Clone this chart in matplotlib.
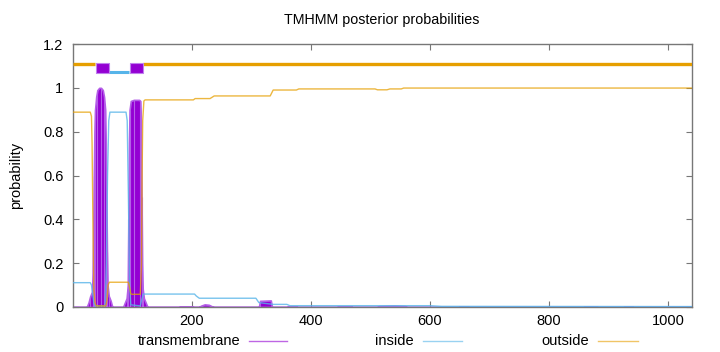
import matplotlib
matplotlib.use('Agg')
import matplotlib.pyplot as plt
from matplotlib.lines import Line2D
from matplotlib.ticker import FuncFormatter

# posterior probabilities (residue, value)
tm_x = [1, 24, 27, 30, 33, 34, 35, 36, 37, 38, 40, 42, 45, 48, 51, 53, 55, 56, 57, 58, 59, 61, 64, 67,
        85, 88, 91, 93, 94, 95, 96, 98, 103, 112, 114, 115, 116, 117, 118, 120, 123, 126,
        178, 182, 200, 204, 212, 216, 222, 229, 235, 238, 313, 315, 333, 335,
        360, 362, 376, 378, 444, 446, 468, 470, 511, 515, 540, 558, 562,
        648, 650, 664, 666, 858, 860, 880, 882, 925, 927, 940, 942, 1040]
tm_y = [0, 0, 0.02, 0.05, 0.07, 0.15, 0.35, 0.6, 0.8, 0.9, 0.96, 0.99, 1.0, 1.0, 0.99, 0.96, 0.9, 0.75, 0.5, 0.25, 0.1, 0.05, 0.03, 0,
        0, 0.02, 0.04, 0.1, 0.4, 0.75, 0.9, 0.94, 0.945, 0.945, 0.94, 0.85, 0.5, 0.2, 0.08, 0.04, 0.02, 0,
        0, 0.003, 0.003, 0, 0, 0.006, 0.012, 0.01, 0.002, 0, 0, 0.028, 0.03, 0,
        0, 0.003, 0.003, 0, 0, 0.003, 0.003, 0, 0, 0.004, 0.006, 0.004, 0,
        0, 0.003, 0.003, 0, 0, 0.003, 0.003, 0, 0, 0.003, 0.003, 0, 0]

inside_x = [1, 30, 32, 34, 36, 38, 55, 57, 59, 61, 63, 90, 92, 94, 96, 98, 114, 116, 119,
            205, 208, 213, 308, 313, 337, 360, 365, 600, 620, 1040]
inside_y = [0.111, 0.111, 0.1, 0.06, 0.02, 0.005, 0.005, 0.2, 0.6, 0.85, 0.889, 0.889, 0.85, 0.5, 0.1, 0.01, 0.005, 0.03, 0.059,
            0.059, 0.05, 0.04, 0.04, 0.02, 0.012, 0.012, 0.006, 0.006, 0.003, 0.002]

outside_x = [1, 30, 32, 33, 34, 35, 36, 38, 40, 56, 58, 60, 62, 94, 96, 98, 100, 114, 116, 117, 118, 120, 122,
             203, 206, 231, 238, 332, 337, 376, 380, 508, 512, 528, 533, 552, 556, 1040]
outside_y = [0.889, 0.889, 0.87, 0.75, 0.5, 0.25, 0.08, 0.02, 0.005, 0.005, 0.03, 0.1, 0.113, 0.113, 0.09, 0.06, 0.058, 0.058, 0.2, 0.6, 0.85, 0.94, 0.945,
             0.945, 0.951, 0.951, 0.963, 0.963, 0.99, 0.99, 0.995, 0.995, 0.991, 0.991, 0.995, 0.995, 0.999, 0.999]

# predicted topology (start, end)
outside_seg = [(1, 38), (119, 1040)]
inside_seg = [(62, 95)]
tm_seg = [(39, 61), (96, 118)]

seq_len = 1040
x_ticks = [200, 400, 600, 800, 1000]
y_ticks = [0, 0.2, 0.4, 0.6, 0.8, 1.0, 1.2]

PURPLE = '#9400d3'
BLUE = '#56b4e9'
ORANGE = '#e69f00'
BORDER = '#777777'

plt.rcParams['font.family'] = ['Liberation Sans', 'DejaVu Sans']

fig = plt.figure(figsize=(7.2, 3.52), dpi=100)
ax = fig.add_axes([73 / 720, 1 - 307 / 352, (692 - 73) / 720, (307 - 44) / 352])

# transmembrane as impulses
ax.fill_between(tm_x, tm_y, 0, color=PURPLE, linewidth=1.2, edgecolor='#b45ee8', zorder=2)
imp = [(x, y) for x, y in zip(tm_x, tm_y) if y > 0.02][::2]
ax.vlines([p[0] for p in imp], 0, [p[1] for p in imp], color='#b45ee8', linewidth=0.8, zorder=3)

ax.plot(inside_x, inside_y, color=BLUE, linewidth=1.0, alpha=0.8, zorder=4)
ax.plot(outside_x, outside_y, color=ORANGE, linewidth=1.0, alpha=0.75, zorder=4)

# topology bar on top
for a, b in outside_seg:
    ax.hlines(1.11, a, b, color=ORANGE, linewidth=2.4, zorder=5)
for a, b in inside_seg:
    ax.hlines(1.072, a, b, color=BLUE, linewidth=2.2, zorder=5)
ax.broken_barh([(a, b - a) for a, b in tm_seg], (1.068, 0.046),
               facecolor=PURPLE, edgecolor='#c080ee', linewidth=0.8, zorder=6)

ax.set_xlim(1, seq_len)
ax.set_ylim(0, 1.2)
ax.set_xticks(x_ticks)
ax.set_yticks(y_ticks)
ax.yaxis.set_major_formatter(FuncFormatter(lambda v, p: f'{v:g}'))
ax.tick_params(direction='in', top=True, right=True, length=4, width=0.8,
               color=BORDER, labelsize=10.5, labelcolor='black')
ax.tick_params(axis='y', pad=7)
ax.tick_params(axis='x', pad=5)
for s in ax.spines.values():
    s.set_color(BORDER)
    s.set_linewidth(1.0)

ax.set_ylabel('probability', fontsize=10.5, labelpad=14)
fig.text(382 / 720, 1 - 20 / 352, 'TMHMM posterior probabilities', ha='center', va='center', fontsize=10.3)

# key below the plot
legend_items = [('transmembrane', PURPLE, 240, 249, 287),
                ('inside', BLUE, 414, 423, 462),
                ('outside', ORANGE, 589, 598, 638)]
for label, col, tx, x0, x1 in legend_items:
    yy = 1 - 341 / 352
    fig.text(tx / 720, yy, label, ha='right', va='center', fontsize=10.5)
    fig.add_artist(Line2D([x0 / 720, x1 / 720], [yy, yy], color=col, linewidth=1.0, alpha=0.6))

fig.savefig('out.png', dpi=100)
